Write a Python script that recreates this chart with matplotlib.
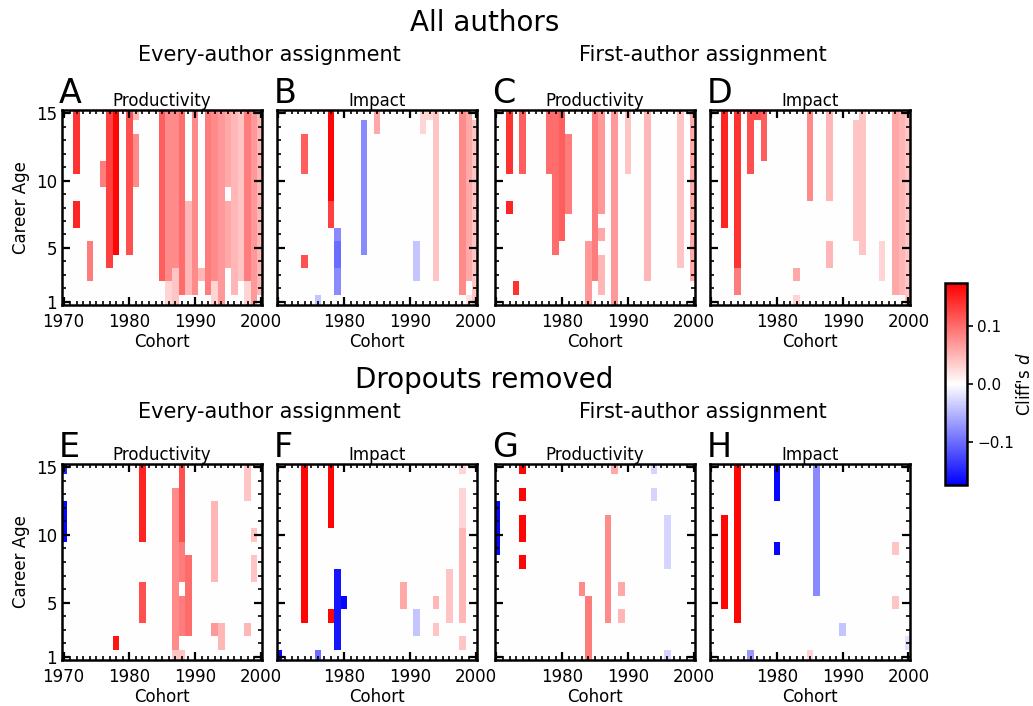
import numpy as np
import matplotlib
matplotlib.use('Agg')
import matplotlib.pyplot as plt
from matplotlib.ticker import MultipleLocator

cohorts = np.arange(1970, 2001)
ages = np.arange(1, 16)

# (cohort, first age, last age, Cliff's d) - cells not listed are 0
prod_all_every = [(1972, 11, 15, 0.14), (1972, 7, 8, 0.15), (1974, 3, 5, 0.09),
                  (1976, 10, 11, 0.09), (1977, 4, 15, 0.13), (1978, 5, 15, 0.17),
                  (1980, 5, 15, 0.12), (1981, 15, 15, 0.05), (1981, 10, 13, 0.08),
                  (1985, 3, 15, 0.11), (1986, 3, 15, 0.08), (1986, 1, 2, 0.03),
                  (1987, 4, 15, 0.08), (1987, 1, 3, 0.04), (1988, 2, 15, 0.10),
                  (1989, 2, 8, 0.05), (1990, 2, 15, 0.08), (1991, 3, 3, 0.05),
                  (1992, 2, 15, 0.09), (1993, 3, 15, 0.08), (1993, 1, 2, 0.03),
                  (1994, 1, 15, 0.07), (1995, 10, 15, 0.06), (1995, 4, 8, 0.06),
                  (1996, 2, 15, 0.05), (1997, 3, 15, 0.04), (1998, 3, 15, 0.09),
                  (1998, 1, 2, 0.03), (1999, 1, 15, 0.07), (2000, 2, 15, 0.05)]
impact_all_every = [(1974, 11, 13, 0.11), (1974, 4, 4, 0.12), (1976, 1, 1, -0.04),
                    (1978, 9, 15, 0.17), (1978, 7, 8, 0.13), (1979, 2, 6, -0.08),
                    (1979, 4, 5, -0.10), (1983, 5, 14, -0.08), (1985, 14, 15, 0.06),
                    (1991, 3, 5, -0.04), (1992, 14, 15, 0.03), (1993, 15, 15, 0.03),
                    (1994, 3, 15, 0.04), (1998, 2, 15, 0.08), (1999, 3, 15, 0.06),
                    (1999, 1, 1, 0.02), (2000, 1, 14, 0.04)]
prod_all_first = [(1972, 11, 15, 0.14), (1972, 8, 8, 0.15), (1973, 2, 2, 0.14),
                  (1974, 11, 15, 0.11), (1978, 11, 15, 0.10), (1979, 5, 15, 0.10),
                  (1980, 6, 15, 0.11), (1981, 8, 13, 0.09), (1984, 1, 5, 0.07),
                  (1985, 3, 15, 0.09), (1986, 8, 15, 0.07), (1986, 6, 6, 0.06),
                  (1986, 2, 4, 0.05), (1988, 1, 15, 0.07), (1990, 11, 15, 0.04),
                  (1993, 3, 15, 0.05), (1998, 4, 15, 0.04), (2000, 3, 15, 0.06)]
impact_all_first = [(1972, 7, 15, 0.15), (1974, 2, 15, 0.14), (1974, 2, 3, 0.09),
                    (1976, 11, 15, 0.12), (1977, 15, 15, 0.12), (1978, 12, 15, 0.11),
                    (1983, 3, 3, 0.06), (1983, 1, 1, 0.03), (1985, 9, 15, 0.08),
                    (1988, 11, 15, 0.05), (1988, 9, 10, 0.05), (1988, 4, 5, 0.05),
                    (1992, 6, 14, 0.04), (1993, 5, 15, 0.04), (1996, 3, 5, 0.03),
                    (1998, 2, 15, 0.06), (1999, 2, 15, 0.05), (2000, 1, 15, 0.04)]
prod_drop_every = [(1970, 15, 15, -0.15), (1970, 10, 12, -0.17), (1978, 2, 2, 0.16),
                   (1982, 10, 15, 0.15), (1982, 4, 6, 0.12), (1987, 2, 13, 0.08),
                   (1987, 1, 1, 0.04), (1988, 10, 15, 0.12), (1988, 3, 9, 0.09),
                   (1988, 6, 6, 0.0), (1988, 1, 1, 0.04), (1989, 3, 8, 0.10),
                   (1993, 7, 12, 0.05), (1993, 3, 3, 0.07), (1994, 2, 3, 0.05),
                   (1998, 13, 15, 0.04), (1998, 3, 3, 0.05), (1999, 10, 10, 0.04),
                   (1999, 7, 8, 0.04)]
impact_drop_every = [(1970, 1, 1, -0.17), (1974, 4, 15, 0.17), (1976, 1, 1, -0.10),
                     (1978, 11, 15, 0.17), (1978, 4, 4, 0.17), (1979, 2, 7, -0.16),
                     (1980, 5, 5, -0.17), (1989, 5, 6, 0.06), (1991, 3, 4, -0.04),
                     (1994, 5, 5, 0.05), (1994, 3, 3, 0.04), (1996, 4, 7, 0.04),
                     (1998, 15, 15, 0.03), (1998, 11, 13, 0.03), (1998, 4, 10, 0.05),
                     (1998, 2, 2, 0.04)]
prod_drop_first = [(1970, 9, 12, -0.17), (1974, 15, 15, 0.17), (1974, 13, 13, 0.17),
                   (1974, 10, 11, 0.17), (1974, 8, 8, 0.17), (1983, 6, 6, 0.08),
                   (1984, 1, 5, 0.09), (1987, 4, 11, 0.08), (1988, 15, 15, 0.06),
                   (1989, 6, 6, 0.06), (1989, 4, 4, 0.05), (1994, 15, 15, -0.03),
                   (1994, 13, 13, -0.03), (1996, 8, 11, -0.03), (1996, 1, 1, -0.03)]
impact_drop_first = [(1972, 5, 11, 0.17), (1974, 4, 15, 0.17), (1976, 1, 1, -0.07),
                     (1980, 13, 15, -0.17), (1980, 9, 9, -0.17), (1985, 1, 1, 0.03),
                     (1986, 6, 15, -0.08), (1990, 3, 3, -0.04), (1998, 9, 9, 0.04),
                     (1998, 5, 5, 0.04), (2000, 2, 2, -0.02)]

panels = [('A', 'Productivity', prod_all_every), ('B', 'Impact', impact_all_every),
          ('C', 'Productivity', prod_all_first), ('D', 'Impact', impact_all_first),
          ('E', 'Productivity', prod_drop_every), ('F', 'Impact', impact_drop_every),
          ('G', 'Productivity', prod_drop_first), ('H', 'Impact', impact_drop_first)]

VMAX = 0.175


def to_grid(segs):
    grid = np.zeros((len(ages), len(cohorts)))
    for c, lo, hi, v in segs:
        grid[lo - 1:hi, c - cohorts[0]] = v
    return grid


fig = plt.figure(figsize=(10.33, 7.06), dpi=100)
lefts = [0.060, 0.268, 0.479, 0.687]
rows = [(0.568, 0.276), (0.065, 0.278)]
width = 0.194

x_edges = np.append(cohorts, cohorts[-1] + 1) - 0.5
y_edges = np.append(ages, ages[-1] + 1) - 0.5

for i, (letter, title, segs) in enumerate(panels):
    bottom, height = rows[i // 4]
    ax = fig.add_axes([lefts[i % 4], bottom, width, height])
    mesh = ax.pcolormesh(x_edges, y_edges, to_grid(segs), cmap='bwr',
                         vmin=-VMAX, vmax=VMAX)
    ax.set_xlim(1969.75, 2000.25)
    ax.set_ylim(0.75, 15.25)
    ax.set_xticks([1970, 1980, 1990, 2000])
    ax.set_yticks([1, 5, 10, 15])
    ax.xaxis.set_minor_locator(MultipleLocator(1))
    ax.yaxis.set_minor_locator(MultipleLocator(1))
    ax.tick_params(which='both', direction='in', top=True, right=True, labelsize=12)
    ax.tick_params(which='major', length=6, width=1.6)
    ax.tick_params(which='minor', length=3, width=1.2)
    ax.tick_params(axis='x', which='major', pad=6)
    for sp in ax.spines.values():
        sp.set_linewidth(1.8)
    if i % 4 == 0:
        ax.set_ylabel('Career Age', fontsize=12)
    else:
        ax.set_xticklabels(['', '1980', '1990', '2000'])
        ax.set_yticklabels([])
    ax.set_xlabel('Cohort', fontsize=12, labelpad=1)
    ax.set_title(title, fontsize=12, pad=3)
    ax.text(-0.015, 1.0, letter, transform=ax.transAxes, fontsize=24,
            ha='left', va='bottom')

fig.text(0.469, 0.967, 'All authors', fontsize=20, ha='center', va='center')
fig.text(0.469, 0.462, 'Dropouts removed', fontsize=20, ha='center', va='center')
for y in (0.922, 0.416):
    fig.text(0.261, y, 'Every-author assignment', fontsize=15, ha='center', va='center')
    fig.text(0.680, y, 'First-author assignment', fontsize=15, ha='center', va='center')

cax = fig.add_axes([0.915, 0.313, 0.021, 0.286])
cb = fig.colorbar(mesh, cax=cax, ticks=[-0.1, 0.0, 0.1])
cb.ax.set_yticklabels(['\u22120.1', '0.0', '0.1'])
cb.ax.tick_params(labelsize=11, width=1.2, length=4)
cb.outline.set_linewidth(1.8)
cb.set_label("Cliff's $d$", fontsize=12, labelpad=1)

fig.savefig('out.png', dpi=100)
